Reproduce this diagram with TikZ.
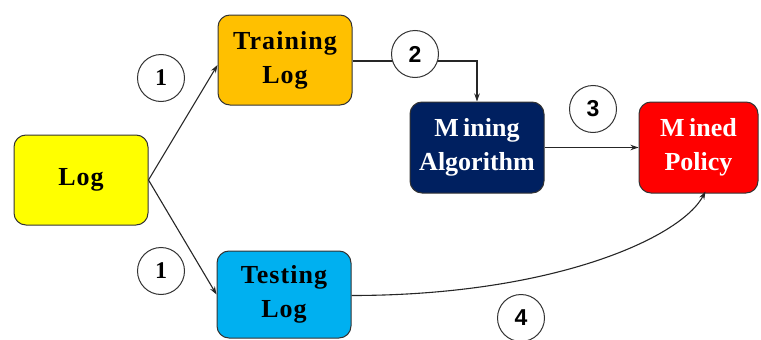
\documentclass[tikz,border=0pt]{standalone}
\usepackage{fontspec}
\setmainfont{Liberation Serif}
\newfontfamily\spacedserif[LetterSpace=4]{Liberation Serif}
\newfontfamily\numsans{Liberation Sans}
\usetikzlibrary{arrows.meta}

\definecolor{logyellow}{HTML}{FFFF00}
\definecolor{trainorange}{HTML}{FFC000}
\definecolor{testblue}{HTML}{00B0F0}
\definecolor{mineblue}{HTML}{002060}
\definecolor{policyred}{HTML}{FF0000}
\definecolor{edgegray}{HTML}{333333}

\tikzset{
  stage/.style={draw=edgegray, line width=1pt, rounded corners=12pt,
    minimum width=134pt, minimum height=90pt, align=center, inner sep=0pt},
  darktext/.style={font=\spacedserif\bfseries\fontsize{26}{34}\selectfont, text=black},
  lighttext/.style={font=\bfseries\fontsize{26}{34}\selectfont, text=white},
  stepno/.style={circle, draw=black!80, line width=1pt, fill=white,
    minimum size=47pt, inner sep=0pt, font=\numsans\bfseries\fontsize{23}{23}\selectfont},
  flow/.style={draw=black!85, line width=1.1pt, -{Stealth[length=8pt,width=5.5pt]}}
}

\begin{document}
\begin{tikzpicture}[x=1pt, y=-1pt]
  \useasboundingbox (0,0) rectangle (761,340);

  % process stages
  \node[stage, darktext, fill=logyellow] (log) at (81,180) {Log};
  \node[stage, darktext, fill=trainorange] (train) at (285,60) {Training\\Log};
  \node[stage, darktext, fill=testblue, minimum height=87pt] (test) at (284,294.5) {Testing\\Log};
  \node[stage, lighttext, fill=mineblue, minimum height=91pt] (mine) at (477,147.5) {M\,ining\\Algorithm};
  \node[stage, lighttext, fill=policyred, minimum width=119pt, minimum height=91pt] (policy) at (698.5,147.5) {M\,ined\\Policy};

  % connectors
  \draw[flow] (log.east) -- ([yshift=-5pt]train.west);
  \draw[flow] (log.east) -- (test.west);
  \draw[flow] ([yshift=-1pt]train.east) -| (mine.north);
  \draw[flow] (mine.east) -- (policy.west);
  \draw[flow] ([yshift=-1pt]test.east) .. controls +(200,0) and +(-25,47) .. ([xshift=7pt,yshift=2pt]policy.south);

  % step numbers
  \node[stepno, font=\bfseries\fontsize{24}{24}\selectfont] (s1a) at (161,78) {1};
  \node[stepno, font=\bfseries\fontsize{24}{24}\selectfont] (s1b) at (161,271) {1};
  \node[stepno] (s2) at (415,54) {2};
  \node[stepno] (s3) at (593,109) {3};
  \node[stepno] (s4) at (521,318) {4};
\end{tikzpicture}
\end{document}
